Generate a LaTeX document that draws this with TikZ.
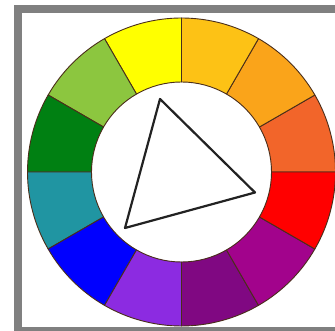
\documentclass[tikz,border=0pt]{standalone}
\usepackage{xcolor}
\usepackage{tikz}
\usetikzlibrary{calc}
\definecolor{wheelredorange}{HTML}{F2652A}
\definecolor{wheelorange}{HTML}{FAA41A}
\definecolor{wheelyelloworange}{HTML}{FDC215}
\definecolor{wheelyellow}{HTML}{FFFF00}
\definecolor{wheelyellowgreen}{HTML}{8CC63F}
\definecolor{wheelgreen}{HTML}{008012}
\definecolor{wheelteal}{HTML}{2095A2}
\definecolor{wheelblue}{HTML}{0000FF}
\definecolor{wheelblueviolet}{HTML}{8C2BE1}
\definecolor{wheelpurple}{HTML}{800882}
\definecolor{wheelredviolet}{HTML}{A2038C}
\definecolor{wheelred}{HTML}{FF0000}
\definecolor{wheeledge}{HTML}{4A2E1A}
\definecolor{framegrey}{HTML}{808080}
\definecolor{trigrey}{HTML}{222222}

\begin{document}
\begin{tikzpicture}[
  x=1pt,y=1pt,
  seg/.style={draw=wheeledge,line width=0.9pt,line join=round},
  frame/.style={draw=framegrey,line width=8pt},
  tri/.style={draw=trigrey,line width=2.2pt,line join=round}
]
\clip (0,0) rectangle (335,331);
\fill[white] (0,0) rectangle (335,331);
\draw[frame] (18,0) rectangle (345,322);
\coordinate (c) at (181.5,159);
\foreach \col [count=\i from 0] in {wheelredorange,wheelorange,wheelyelloworange,wheelyellow,wheelyellowgreen,wheelgreen,wheelteal,wheelblue,wheelblueviolet,wheelpurple,wheelredviolet,wheelred}
  \filldraw[seg,fill=\col] ($(c)+(\i*30:154pt)$) arc[start angle=\i*30,end angle=\i*30+30,radius=154pt]
    -- ($(c)+(\i*30+30:90pt)$) arc[start angle=\i*30+30,end angle=\i*30,radius=90pt] -- cycle;
\coordinate (ta) at (160,232);
\coordinate (tb) at (255,138.5);
\coordinate (tc) at (125,103);
\draw[tri] (ta) -- (tb) -- (tc) -- cycle;
\end{tikzpicture}
\end{document}
